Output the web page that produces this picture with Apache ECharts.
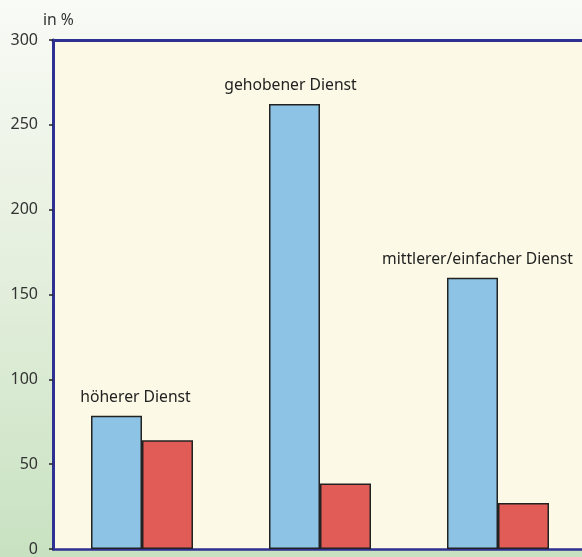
<!DOCTYPE html>
<html>
<head>
<meta charset="utf-8">
<script src="https://cdn.jsdelivr.net/npm/echarts@6/dist/echarts.min.js"></script>
<style>
html,body{margin:0;padding:0;overflow:hidden;width:582px;height:557px;}
#c{width:600px;height:557px;background:linear-gradient(to bottom,#f9fbf6 0%,#e6f0df 45%,#c8e2c1 100%);}
</style>
</head>
<body>
<div id="c"></div>
<script>
const categories = ['höherer Dienst', 'gehobener Dienst', 'mittlerer/einfacher Dienst'];
const seriesBlue = [78.5, 262.3, 159.8];
const seriesRed = [64.1, 38.6, 27.1];
const yTicks = [0, 50, 100, 150, 200, 250, 300];

const labelShift = [[19, 0], [-4, 0], [5, 0]];
const font = 'Noto Sans';
const chart = echarts.init(document.getElementById('c'), null, {renderer: 'canvas'});
chart.setOption({
  backgroundColor: 'transparent',
  animation: false,
  title: {
    text: 'in %', left: 38, top: 8,
    textStyle: {fontFamily: font, fontSize: 15.7, fontWeight: 'normal', color: '#333'}
  },
  grid: {
    left: 53, top: 40, bottom: 7, width: 534,
    show: true, backgroundColor: '#fcfae6', borderWidth: 0, containLabel: false
  },
  xAxis: [{
    type: 'category', data: categories, position: 'bottom',
    axisLine: {show: true, lineStyle: {color: '#2e3192', width: 2.5}},
    axisTick: {show: false}, axisLabel: {show: false}, splitLine: {show: false}
  }, {
    type: 'category', data: categories, position: 'top',
    axisLine: {show: true, lineStyle: {color: '#2e3192', width: 3}},
    axisTick: {show: false}, axisLabel: {show: false}, splitLine: {show: false}
  }],
  yAxis: {
    type: 'value', min: yTicks[0], max: yTicks[yTicks.length - 1], interval: yTicks[1] - yTicks[0],
    axisLine: {show: true, lineStyle: {color: '#2e3192', width: 3}},
    axisTick: {show: true, inside: false, length: 4, lineStyle: {color: '#222', width: 1.5}},
    axisLabel: {show: true, margin: 15, padding: [4, 0, 0, 0], fontFamily: font, fontSize: 16, color: '#333'},
    splitLine: {show: false}
  },
  series: [{
    type: 'bar', barWidth: 51, barGap: 0,
    data: seriesBlue.map((v, i) => ({value: v, label: {offset: labelShift[i]}})),
    itemStyle: {color: '#8dc4e6', borderColor: '#222', borderWidth: 1.5},
    label: {
      show: true, position: 'top', distance: 10,
      formatter: p => categories[p.dataIndex],
      fontFamily: font, fontSize: 15.7, color: '#222'
    }
  }, {
    type: 'bar', barWidth: 51, barGap: 0,
    data: seriesRed,
    itemStyle: {color: '#e15c57', borderColor: '#222', borderWidth: 1.5}
  }]
});
</script>
</body>
</html>
